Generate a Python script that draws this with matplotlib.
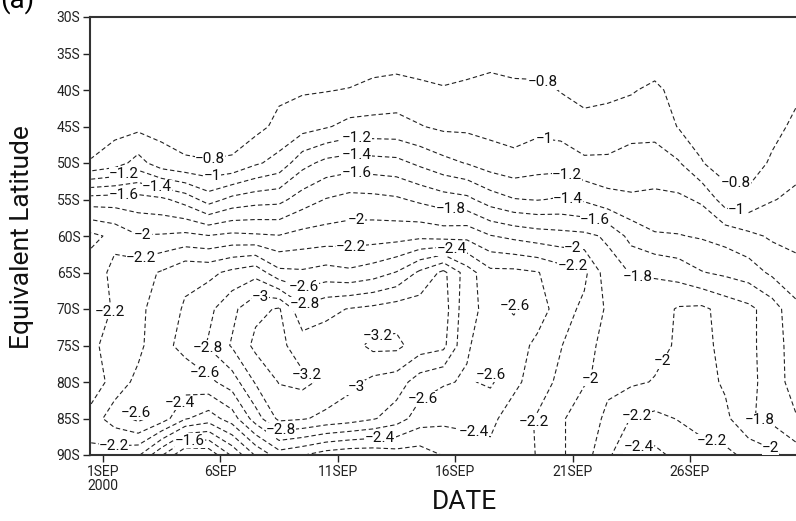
import numpy as np
import matplotlib
matplotlib.use("Agg")
import matplotlib.pyplot as plt

# grid: days (1SEP = 1) and equivalent latitude (deg, south negative)
days = [0.5, 1.5, 2.5, 3.5, 4.5, 5.5, 6.5, 7.5, 8.5, 9.5, 10.5, 11.5, 12.5, 13.5, 14.5, 15.5,
        16.5, 17.5, 18.5, 19.5, 20.5, 21.5, 22.5, 23.5, 24.5, 25.5, 26.5, 27.5, 28.5, 29.5, 30.5]
lats = [-30, -35, -40, -45, -50, -55, -60, -65, -70, -75, -80, -85, -90]

# field values, one row per latitude
row_30 = [-0.50, -0.50, -0.50, -0.50, -0.50, -0.50, -0.50, -0.50, -0.50, -0.50, -0.50, -0.50, -0.50, -0.50, -0.50, -0.50,
          -0.50, -0.50, -0.50, -0.50, -0.50, -0.50, -0.50, -0.50, -0.50, -0.50, -0.50, -0.50, -0.50, -0.50, -0.50]
row_35 = [-0.65, -0.65, -0.65, -0.65, -0.65, -0.65, -0.65, -0.65, -0.65, -0.65, -0.65, -0.65, -0.66, -0.67, -0.65, -0.65,
          -0.65, -0.67, -0.65, -0.65, -0.65, -0.65, -0.65, -0.65, -0.65, -0.65, -0.65, -0.65, -0.65, -0.65, -0.65]
row_40 = [-0.70, -0.70, -0.68, -0.70, -0.70, -0.70, -0.70, -0.72, -0.76, -0.78, -0.79, -0.81, -0.87, -0.90, -0.86, -0.82,
          -0.86, -0.92, -0.87, -0.86, -0.79, -0.75, -0.76, -0.78, -0.85, -0.72, -0.70, -0.65, -0.65, -0.70, -0.76]
row_45 = [-0.73, -0.74, -0.75, -0.74, -0.73, -0.72, -0.73, -0.74, -0.85, -0.92, -0.98, -1.06, -1.06, -1.06, -1.01, -0.96,
          -0.96, -0.94, -0.93, -0.95, -0.92, -0.85, -0.87, -0.93, -0.94, -0.79, -0.72, -0.66, -0.64, -0.74, -0.84]
row_50 = [-0.81, -0.90, -1.08, -0.88, -0.82, -0.81, -0.82, -0.97, -1.07, -1.33, -1.46, -1.50, -1.48, -1.46, -1.36, -1.26,
          -1.19, -1.10, -1.05, -1.11, -1.12, -1.04, -1.04, -1.08, -1.08, -1.02, -0.81, -0.70, -0.70, -0.83, -0.94]
row_55 = [-1.69, -1.70, -1.68, -1.64, -1.52, -1.31, -1.46, -1.52, -1.54, -1.70, -1.81, -1.87, -1.86, -1.83, -1.76, -1.69,
          -1.65, -1.50, -1.41, -1.39, -1.42, -1.37, -1.27, -1.23, -1.25, -1.24, -1.17, -0.90, -0.86, -0.99, -1.04]
row_60 = [-2.25, -2.15, -2.01, -2.02, -2.05, -2.01, -2.05, -2.03, -2.01, -2.07, -2.09, -2.10, -2.11, -2.12, -2.15, -2.12,
          -2.14, -2.01, -1.95, -1.90, -1.87, -1.85, -1.77, -1.53, -1.42, -1.41, -1.38, -1.33, -1.25, -1.17, -1.14]
row_65 = [-2.10, -2.25, -2.32, -2.42, -2.56, -2.55, -2.65, -2.73, -2.45, -2.43, -2.48, -2.44, -2.50, -2.61, -2.84, -3.05,
          -2.70, -2.45, -2.45, -2.41, -2.30, -2.25, -1.88, -1.79, -1.78, -1.72, -1.61, -1.56, -1.50, -1.36, -1.27]
row_70 = [-2.15, -2.21, -2.35, -2.50, -2.62, -2.75, -2.95, -3.15, -3.22, -2.85, -2.95, -3.01, -3.05, -3.10, -3.10, -3.10,
          -2.65, -2.55, -2.62, -2.50, -2.30, -2.15, -1.97, -1.90, -1.90, -2.02, -2.04, -1.93, -1.85, -1.70, -1.45]
row_75 = [-2.15, -2.30, -2.35, -2.55, -2.65, -2.82, -3.02, -3.25, -3.25, -3.10, -3.10, -3.12, -3.25, -3.25, -3.10, -3.05,
          -2.62, -2.50, -2.50, -2.35, -2.21, -2.05, -1.95, -1.93, -1.95, -2.02, -2.05, -1.95, -1.85, -1.70, -1.50]
row_80 = [-2.05, -2.30, -2.45, -2.50, -2.50, -2.55, -2.70, -3.02, -3.21, -3.25, -3.15, -3.05, -2.95, -2.90, -2.70, -2.62,
          -2.58, -2.63, -2.45, -2.30, -2.15, -2.01, -1.97, -1.97, -2.01, -2.10, -2.08, -1.97, -1.85, -1.72, -1.50]
row_85 = [-2.30, -2.50, -2.65, -2.50, -2.22, -2.10, -2.30, -2.70, -3.05, -3.02, -2.95, -2.90, -2.82, -2.70, -2.50, -2.45,
          -2.45, -2.45, -2.30, -2.18, -2.02, -1.92, -2.03, -2.21, -2.25, -2.19, -2.12, -2.05, -1.82, -1.75, -1.62]
row_90 = [-2.15, -2.10, -2.03, -1.62, -1.20, -1.25, -1.63, -2.02, -2.30, -2.21, -2.10, -2.05, -2.05, -2.10, -2.10, -2.21,
          -2.30, -2.35, -2.30, -2.19, -2.02, -1.92, -2.15, -2.45, -2.45, -2.35, -2.28, -2.25, -2.15, -2.05, -1.90]

levels = [-3.2, -3.0, -2.8, -2.6, -2.4, -2.2, -2.0, -1.8, -1.6, -1.4, -1.2, -1.0, -0.8]

tick_days = [1, 6, 11, 16, 21, 26]
tick_names = ["1SEP\n2000", "6SEP", "11SEP", "16SEP", "21SEP", "26SEP"]
lat_ticks = [-30, -35, -40, -45, -50, -55, -60, -65, -70, -75, -80, -85, -90]
lat_names = ["30S", "35S", "40S", "45S", "50S", "55S", "60S", "65S", "70S", "75S", "80S", "85S", "90S"]

# where the contour labels sit (day, lat)
label_spots = [
    (5.6, -50.3), (19.8, -38.6), (27.9, -53.7), (5.7, -52.7), (19.8, -46.6), (28.0, -56.4),
    (1.9, -51.6), (3.3, -53.3), (1.9, -54.4), (11.8, -46.6), (11.8, -48.9), (11.8, -51.2),
    (20.8, -51.2), (20.8, -54.8), (22.0, -57.4), (15.8, -56.7), (2.7, -60.3), (11.8, -57.5),
    (21.0, -61.9), (2.6, -62.6), (11.6, -62.6), (15.9, -61.2), (21.0, -64.0),
    (23.8, -65.3), (9.6, -67.7), (9.6, -69.5), (7.7, -68.8), (1.4, -70.5), (12.7, -73.1),
    (5.5, -75.2), (5.5, -78.1), (9.6, -79.3), (11.8, -80.8), (18.8, -68.8), (17.8, -78.6),
    (14.6, -82.2), (21.9, -79.7), (25.3, -78.0), (4.5, -83.4), (2.5, -84.5), (4.7, -88.0),
    (8.6, -87.0), (12.8, -87.0), (16.8, -86.6), (19.6, -85.5), (23.8, -85.6), (23.8, -88.4),
    (27.0, -87.7), (28.9, -85.9), (29.6, -87.8), (1.5, -88.2),
]

field = np.array([row_30, row_35, row_40, row_45, row_50, row_55, row_60,
                  row_65, row_70, row_75, row_80, row_85, row_90])

plt.rcParams['font.family'] = ['Roboto', 'DejaVu Sans']

fig = plt.figure(figsize=(7.96, 5.21), dpi=100)
ax = fig.add_axes([90 / 796, 1 - 455 / 521, 708 / 796, 438 / 521])

cs = ax.contour(days, lats, field, levels=levels, colors='#222222',
                linewidths=0.8, linestyles=[(0, (4, 2.5))])


def fmt(v):
    return f"{v:g}".replace('-', '\u2212')


texts = ax.clabel(cs, fmt=fmt, fontsize=11, inline=False, manual=label_spots)
for t in texts:
    t.set_rotation(0)
    t.set_color('#111111')
    t.set_bbox(dict(facecolor='white', edgecolor='none', pad=0.1))

ax.set_xlim(0.45, 30.6)
ax.set_ylim(-90, -30)
ax.set_xticks(tick_days)
ax.set_xticklabels(tick_names, fontsize=10, linespacing=1.0)
ax.set_yticks(lat_ticks)
ax.set_yticklabels(lat_names, fontsize=10)
ax.tick_params(direction='out', length=5, width=1, colors='#222222', pad=2)

for side in ['left', 'bottom', 'top']:
    ax.spines[side].set_color('#333333')
    ax.spines[side].set_linewidth(1.5)
ax.spines['right'].set_visible(False)

fig.text(464 / 796, 1 - 502 / 521, "DATE", fontsize=19,
         ha='center', va='center', color='#111111')
fig.text(22 / 796, 1 - 237 / 521, "Equivalent Latitude", fontsize=19,
         rotation=90, ha='center', va='center', color='#111111')

fig.text(0.0, 1.0, "(a)", fontsize=20, ha='left', va='center')

fig.savefig("out.png", dpi=100)
